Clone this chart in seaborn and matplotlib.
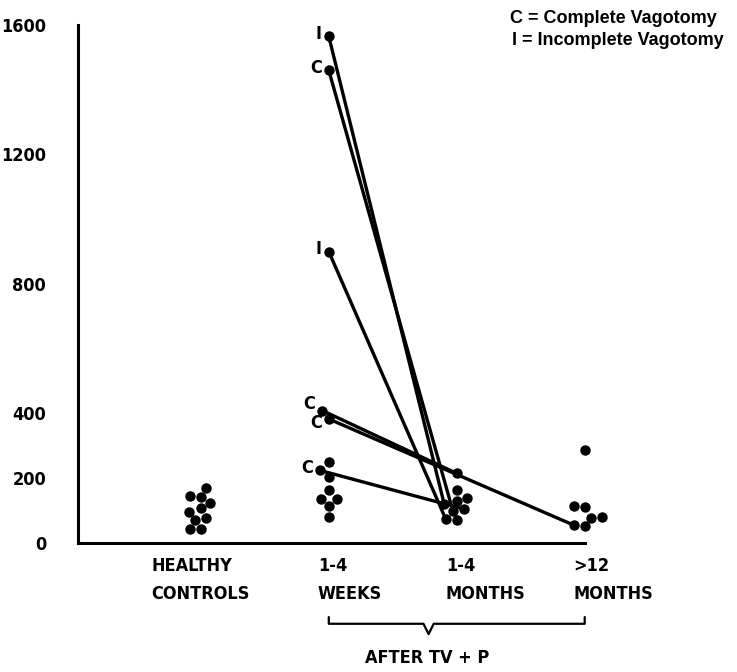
import pandas as pd
import matplotlib
matplotlib.use("Agg")
import matplotlib.pyplot as plt
import matplotlib.transforms as mtransforms
from matplotlib import font_manager
import seaborn as sns

# groups along the x axis
groups = ["HEALTHY\nCONTROLS", "1-4\nWEEKS", "1-4\nMONTHS", ">12\nMONTHS"]

# values
healthy = [171, 145, 143, 123, 108, 97, 77, 71, 43, 43]
weeks = [1565, 1460, 900, 409, 383, 251, 224, 204, 163, 135, 135, 113, 79]
months = [215, 165, 140, 130, 120, 105, 100, 73, 70]
late = [287, 113, 110, 80, 78, 55, 52]

# paired patients (start at 1-4 weeks)
pair_type = ["I", "C", "I", "C", "C", "C"]
pair_start = [1565, 1460, 900, 409, 383, 224]
pair_end_group = [2, 2, 2, 2, 3, 2]
pair_end = [120, 100, 73, 215, 55, 105]

y_ticks = [0, 200, 400, 800, 1200, 1600]

# vertical nudge of the C / I letters (points)
label_dy = [2, 2, 2, 5, -3, 2]

df = pd.DataFrame({
    "group": [groups[0]] * len(healthy) + [groups[1]] * len(weeks)
    + [groups[2]] * len(months) + [groups[3]] * len(late),
    "value": healthy + weeks + months + late,
})

# look for a condensed bold face, otherwise use Liberation Sans
narrow = [f for f in font_manager.fontManager.ttflist
          if f.weight in ("bold", 700) and (
              f.stretch in ("condensed", "semi-condensed")
              or "Narrow" in f.name or "Condensed" in f.name)]
if narrow:
    font_name, font_stretch = narrow[0].name, narrow[0].stretch
    scale = 1.0
else:
    font_name, font_stretch = "Liberation Sans", "normal"
    scale = 0.88

sns.set_theme(style="white")
plt.rcParams["font.family"] = [font_name, "DejaVu Sans"]
plt.rcParams["font.stretch"] = font_stretch
plt.rcParams["font.weight"] = "bold"

fig = plt.figure(figsize=(7.37, 6.72), dpi=100)
ax = fig.add_axes([0.1058, 0.192, 0.757, 0.7708])

sns.swarmplot(data=df, x="group", y="value", order=groups, color="black",
              size=7.5, linewidth=0, ax=ax)

ax.set_xlim(-0.96, 3.4)
ax.set_ylim(0, 1600)
ax.set_xlabel("")
ax.set_ylabel("")

for side in ["top", "right"]:
    ax.spines[side].set_visible(False)
for side in ["left", "bottom"]:
    ax.spines[side].set_linewidth(2.2)
    ax.spines[side].set_color("black")
ax.spines["bottom"].set_bounds(-0.96, 3)
ax.spines["left"].set_bounds(0, 1600)

ax.set_yticks(y_ticks)
ax.set_yticklabels([str(v) for v in y_ticks])
ax.set_xticks(range(len(groups)))
ax.set_xticklabels(groups, linespacing=1.75)
ax.tick_params(axis="y", direction="in", length=7, width=2.2, pad=23,
               labelsize=13 * scale, colors="black")
ax.tick_params(axis="x", direction="in", length=6, width=2.2, pad=10,
               labelsize=13 * scale, colors="black")

# first label centred, the others set left of their tick
for i, lbl in enumerate(ax.get_xticklabels()):
    lbl.set_multialignment("left")
    if i > 0:
        lbl.set_horizontalalignment("left")
        lbl.set_transform(lbl.get_transform() + mtransforms.ScaledTranslation(
            -11 / 100, 0, fig.dpi_scale_trans))

for coll in ax.collections:
    coll.set_clip_on(False)

# let the swarm settle, then join paired points at their drawn spots
fig.canvas.draw()


def find_point(cat, val):
    for coll in ax.collections:
        for x, y in coll.get_offsets():
            if abs(x - cat) < 0.5 and abs(y - val) < 0.01:
                return x, y
    return cat, val


for kind, v0, g1, v1, dy in zip(pair_type, pair_start, pair_end_group,
                                pair_end, label_dy):
    x0, y0 = find_point(1, v0)
    x1, y1 = find_point(g1, v1)
    ax.plot([x0, x1], [y0, y1], color="black", lw=2.4,
            solid_capstyle="round", clip_on=False)
    ax.annotate(kind, xy=(x0, y0), xytext=(-5, dy), textcoords="offset points",
                ha="right", va="center", fontsize=13 * scale, color="black")

# bracket under the post-operative groups
trans = mtransforms.blended_transform_factory(ax.transData, ax.transAxes)
ax.plot([1, 1, 1.74, 1.78, 1.82, 3, 3],
        [-0.143, -0.156, -0.156, -0.176, -0.156, -0.156, -0.143],
        color="black", lw=1.6, transform=trans, clip_on=False)
ax.text(1.77, -0.222, "AFTER TV + P", transform=trans, ha="center",
        va="center", fontsize=13 * scale, color="black")

fig.text(0.692, 0.972, "C = Complete Vagotomy", ha="left", va="center",
         fontsize=13, color="black", family=["Liberation Sans", "DejaVu Sans"],
         stretch="normal")
fig.text(0.695, 0.939, "I = Incomplete Vagotomy", ha="left", va="center",
         fontsize=13, color="black", family=["Liberation Sans", "DejaVu Sans"],
         stretch="normal")

fig.savefig("out.png", dpi=100)
